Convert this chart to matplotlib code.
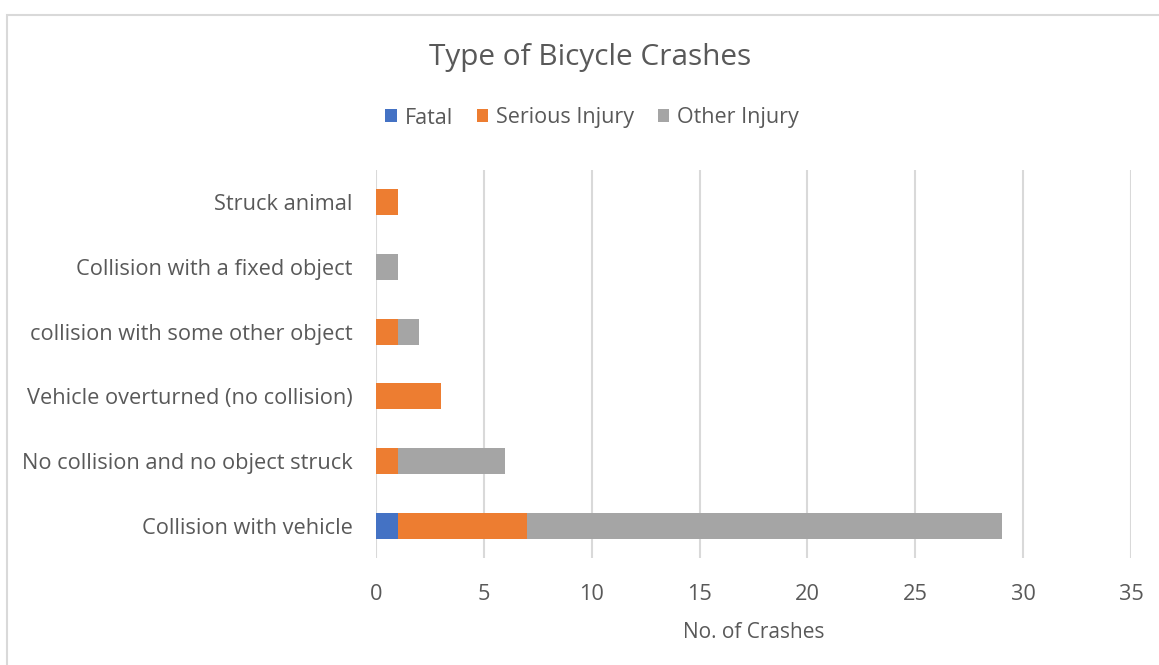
import matplotlib
matplotlib.use("Agg")
import matplotlib.pyplot as plt
from matplotlib.patches import Rectangle
import numpy as np

categories = ["Collision with vehicle", "No collision and no object struck",
              "Vehicle overturned (no collision)", "collision with some other object",
              "Collision with a fixed object", "Struck animal"]
fatal = [1, 0, 0, 0, 0, 0]
serious = [6, 1, 3, 1, 0, 1]
other = [22, 5, 0, 1, 1, 0]
series_names = ["Fatal", "Serious Injury", "Other Injury"]
colors = ["#4472C4", "#ED7D31", "#A5A5A5"]
xticks = [0, 5, 10, 15, 20, 25, 30, 35]

plt.rcParams['font.family'] = ['Open Sans', 'DejaVu Sans']
txt = "#595959"

W, H = 1159, 665
fig = plt.figure(figsize=(W/100, H/100), dpi=100)
ax = fig.add_axes([376/W, 1-558/H, (1131-376)/W, (558-170)/H])

y = np.arange(len(categories))
left = np.zeros(len(categories))
for vals, name, c in zip([fatal, serious, other], series_names, colors):
    ax.barh(y, vals, left=left, height=0.4, color=c, label=name, zorder=3)
    left += np.array(vals)

ax.set_xlim(0, 35)
ax.set_ylim(-0.5, len(categories)-0.5)
ax.set_xticks(xticks)
ax.set_yticks(y)
ax.set_yticklabels(categories)
ax.grid(axis='x', color='#d9d9d9', lw=1.5, zorder=0)
for s in ax.spines.values():
    s.set_visible(False)
ax.tick_params(axis='both', length=0, colors=txt, labelsize=15.7)
ax.tick_params(axis='y', pad=17)
ax.tick_params(axis='x', pad=19)
ax.set_xlabel("No. of Crashes", color=txt, fontsize=15, labelpad=12)

fig.text(590/W, 1-58/H, "Type of Bicycle Crashes", ha='center', va='center',
         fontsize=21.4, color=txt)
leg = fig.legend(loc='center', bbox_to_anchor=(592/W, 1-118/H), ncol=3, frameon=False,
                 fontsize=15.5, handlelength=0.55, handleheight=0.55, handletextpad=0.35,
                 columnspacing=1.1, labelcolor=txt)

fig.patches.append(Rectangle((7/W, -0.1), 1.2, 1-15/H+0.1, transform=fig.transFigure,
                             fill=False, edgecolor='#d9d9d9', lw=1.5, figure=fig))

fig.savefig("out.png", dpi=100)
